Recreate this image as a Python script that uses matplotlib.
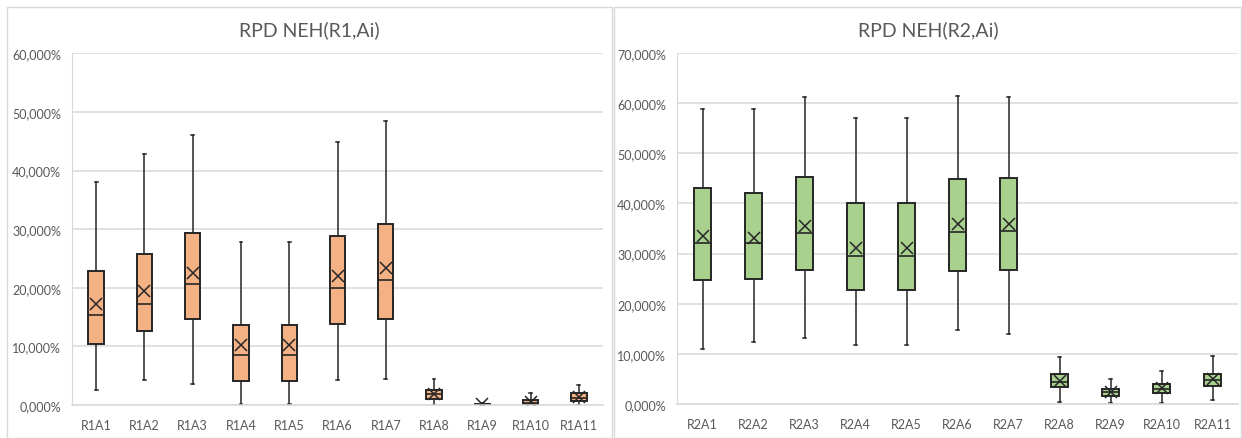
import matplotlib
matplotlib.use("Agg")
import matplotlib.pyplot as plt
from matplotlib.patches import Rectangle
from matplotlib.ticker import FuncFormatter, MultipleLocator

plt.rcParams['font.family'] = ['Lato', 'DejaVu Sans']

# RPD values (%) per configuration: whisker low, Q1, median, Q3, whisker high, mean
r1_labels = ["R1A1", "R1A2", "R1A3", "R1A4", "R1A5", "R1A6", "R1A7", "R1A8", "R1A9", "R1A10", "R1A11"]
r1_low = [2.6, 4.2, 3.5, 0.2, 0.2, 4.3, 4.4, 0.0, 0.0, 0.0, 0.0]
r1_q1 = [10.45, 12.6, 14.7, 4.1, 4.1, 13.9, 14.6, 1.1, 0.02, 0.1, 0.7]
r1_med = [15.4, 17.3, 20.6, 8.6, 8.6, 20.0, 21.4, 1.8, 0.08, 0.4, 1.25]
r1_q3 = [22.95, 25.8, 29.4, 13.6, 13.6, 28.9, 30.9, 2.6, 0.15, 0.8, 2.0]
r1_high = [38.0, 42.8, 46.1, 27.9, 27.9, 44.8, 48.5, 4.5, 0.3, 2.0, 3.35]
r1_mean = [17.3, 19.4, 22.6, 10.2, 10.2, 22.0, 23.3, 1.9, 0.1, 0.5, 1.4]

r2_labels = ["R2A1", "R2A2", "R2A3", "R2A4", "R2A5", "R2A6", "R2A7", "R2A8", "R2A9", "R2A10", "R2A11"]
r2_low = [10.9, 12.3, 13.2, 11.7, 11.7, 14.7, 13.9, 0.4, 0.2, 0.3, 0.8]
r2_q1 = [24.7, 24.9, 26.7, 22.7, 22.7, 26.5, 26.8, 3.3, 1.6, 2.1, 3.5]
r2_med = [32.1, 32.1, 34.1, 29.6, 29.6, 34.3, 34.6, 4.3, 2.3, 2.9, 4.7]
r2_q3 = [43.1, 42.1, 45.2, 40.0, 40.0, 44.9, 45.1, 6.0, 3.0, 3.9, 6.0]
r2_high = [58.8, 58.8, 61.2, 57.1, 57.1, 61.4, 61.2, 9.3, 5.0, 6.5, 9.6]
r2_mean = [33.5, 33.2, 35.5, 31.1, 31.1, 35.8, 35.8, 4.5, 2.3, 3.2, 4.9]

GRID = "#D9D9D9"
TEXT = "#595959"


def pct(v, pos):
    return f"{v:.3f}".replace(".", ",") + "%"


def draw_panel(ax, labels, low, q1, med, q3, high, mean, color, ymax):
    stats = []
    for i in range(len(labels)):
        stats.append(dict(label=labels[i], whislo=low[i], q1=q1[i], med=med[i],
                          q3=q3[i], whishi=high[i], mean=mean[i], fliers=[]))
    ax.bxp(stats, positions=range(len(labels)), widths=0.32, patch_artist=True,
           showmeans=True, showfliers=False,
           boxprops=dict(facecolor=color, edgecolor="#262626", linewidth=1.4),
           medianprops=dict(color="#262626", linewidth=1.2),
           whiskerprops=dict(color="#262626", linewidth=1.1),
           capprops=dict(color="#262626", linewidth=1.1),
           capwidths=0.06,
           meanprops=dict(marker="x", markeredgecolor="#262626", markersize=8,
                          markeredgewidth=1.1))
    ax.set_xlim(-0.5, len(labels) - 0.5)
    ax.set_ylim(0, ymax)
    ax.yaxis.set_major_locator(MultipleLocator(10))
    ax.yaxis.set_major_formatter(FuncFormatter(pct))
    ax.grid(axis="y", color=GRID, linewidth=1.1)
    ax.set_axisbelow(True)
    for s in ["top", "right"]:
        ax.spines[s].set_visible(False)
    ax.spines["bottom"].set_color(GRID)
    ax.spines["left"].set_color(GRID)
    ax.spines["bottom"].set_linewidth(1.1)
    ax.spines["left"].set_linewidth(0.8)
    ax.tick_params(axis="both", length=0, colors=TEXT, labelsize=9)
    ax.tick_params(axis="x", pad=10)
    ax.tick_params(axis="y", pad=8)


fig = plt.figure(figsize=(12.42, 4.39), dpi=100)

# panel frames
fig.add_artist(Rectangle((7 / 1242, 0.0), 605 / 1242, 431 / 439, transform=fig.transFigure,
                         fill=False, edgecolor=GRID, linewidth=1.0))
fig.add_artist(Rectangle((614 / 1242, 0.0), 627 / 1242, 431 / 439, transform=fig.transFigure,
                         fill=False, edgecolor=GRID, linewidth=1.0))

ax1 = fig.add_axes([72 / 1242, 0.0752, 531 / 1242, 0.8008])
ax2 = fig.add_axes([677 / 1242, 0.0774, 561 / 1242, 0.7996])

draw_panel(ax1, r1_labels, r1_low, r1_q1, r1_med, r1_q3, r1_high, r1_mean, "#F4B183", 60)
draw_panel(ax2, r2_labels, r2_low, r2_q1, r2_med, r2_q3, r2_high, r2_mean, "#A9D18E", 70)

# titles centred on each panel frame
fig.text(309.5 / 1242, 1 - 30 / 439, "RPD NEH(R1,Ai)", color=TEXT, fontsize=14,
         ha="center", va="center")
fig.text(928 / 1242, 1 - 30 / 439, "RPD NEH(R2,Ai)", color=TEXT, fontsize=14,
         ha="center", va="center")

fig.savefig("out.png", dpi=100)
